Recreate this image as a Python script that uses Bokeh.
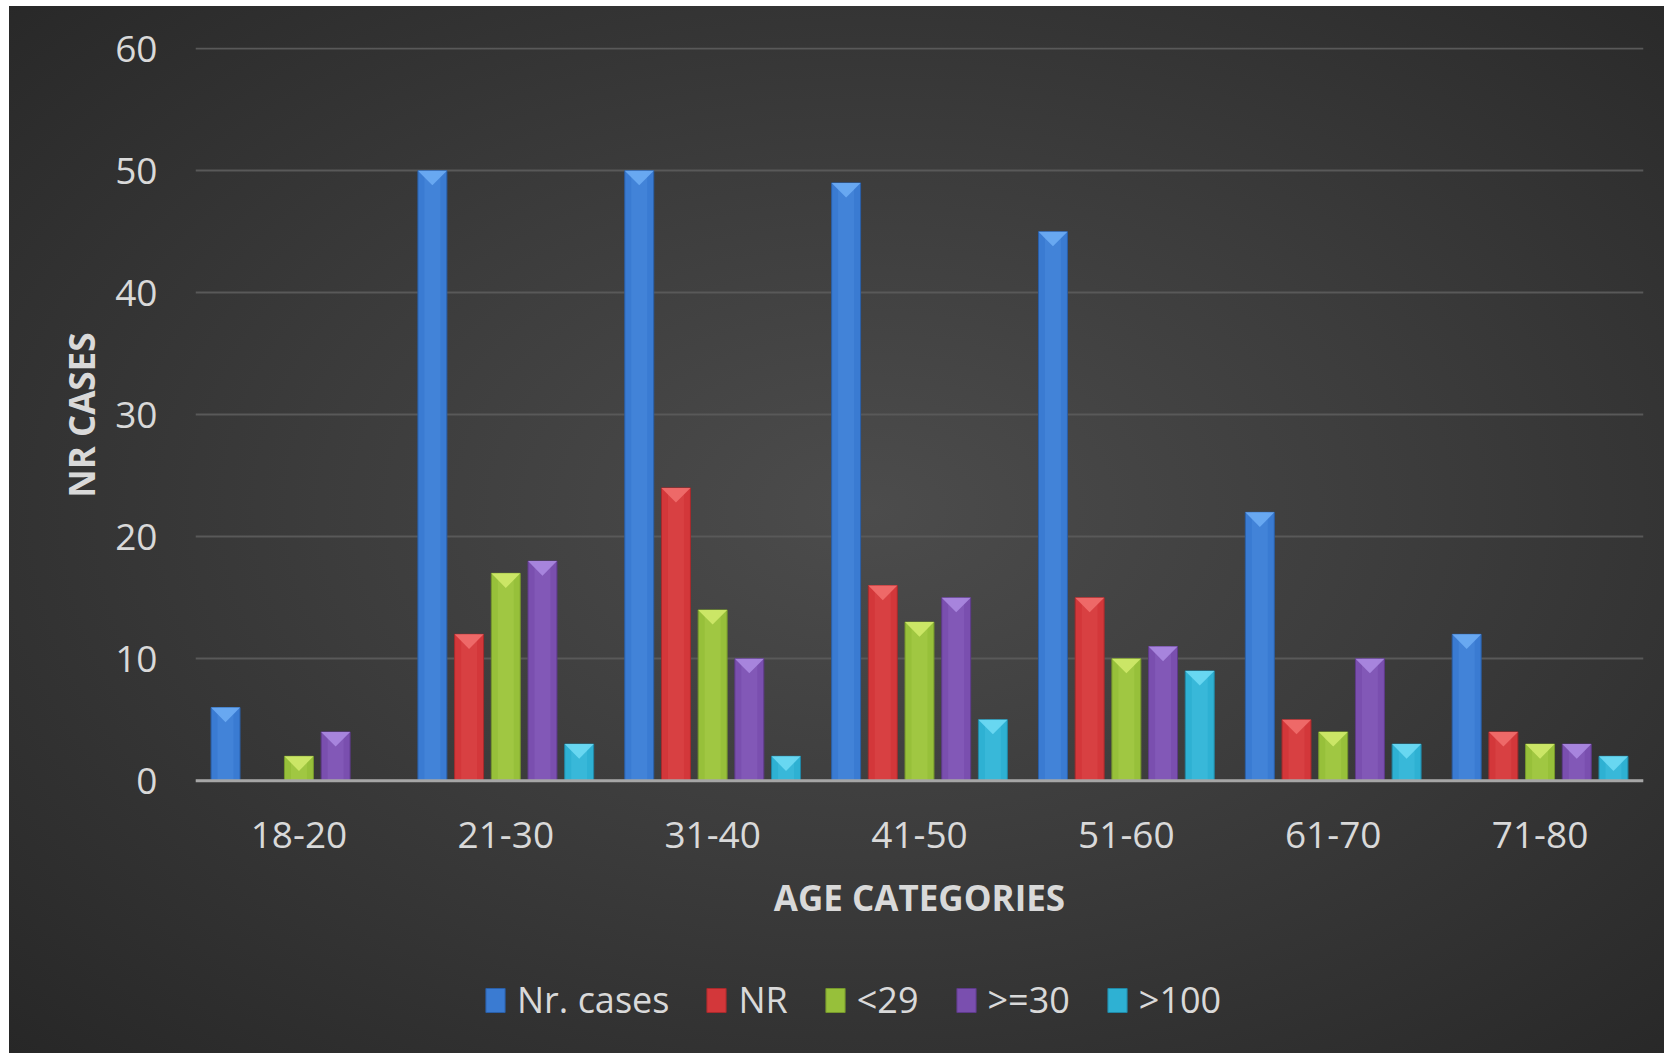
from bokeh.plotting import figure
from bokeh.models import Range1d, FixedTicker, Legend, LegendItem, Span, Title, ColumnDataSource
from bokeh.core.properties import value
from bokeh.embed import file_html
from bokeh.resources import INLINE

categories = ["18-20", "21-30", "31-40", "41-50", "51-60", "61-70", "71-80"]
series_names = ["Nr. cases", "NR", "<29", ">=30", ">100"]
nr_cases = [6, 50, 50, 49, 45, 22, 12]
nr = [0, 12, 24, 16, 15, 5, 4]
lt29 = [2, 17, 14, 13, 10, 4, 3]
ge30 = [4, 18, 10, 15, 11, 10, 3]
gt100 = [0, 3, 2, 5, 9, 3, 2]
y_ticks = [0, 10, 20, 30, 40, 50, 60]
x_title = "AGE CATEGORIES"
y_title = "NR CASES"

series_values = [nr_cases, nr, lt29, ge30, gt100]
colors = ["#3a7bd2", "#d3373a", "#97c03a", "#7a4faf", "#2eb1d3"]
edge_colors = ["#2a5fa8", "#a82a2c", "#76982c", "#5e3a8a", "#2088a6"]
top_colors = ["#6aaaf2", "#ef6c6a", "#cde868", "#a987de", "#6ad8f2"]

FONT = "Open Sans"
TXT = "#d9d9d9"

# frame extends below the value axis so that the category labels and legend sit inside it
p = figure(width=1655, height=1047, output_backend="svg", toolbar_location=None,
           x_range=Range1d(0, len(categories)), y_range=Range1d(-22.36, 60.1),
           x_axis_location=None,
           min_border_left=186, min_border_right=21, min_border_top=41, min_border_bottom=0)
p.styles = {"margin-left": "9px", "margin-top": "6px",
            "background": "radial-gradient(ellipse at 52% 48%, #4c4c4c 0%, #3c3c3c 45%, #272727 100%)"}
p.background_fill_alpha = 0
p.border_fill_alpha = 0
p.outline_line_color = None
p.xgrid.grid_line_color = None

step = 0.1774
bw = 0.140
tri_h = 1.2

items = []
for j, vals in enumerate(series_values):
    xs = [i + 0.5 + (j - 2) * step for i in range(len(categories))]
    r = p.vbar(x=xs, top=vals, bottom=0, width=bw, fill_color=colors[j],
               line_color=edge_colors[j], line_width=1)
    p.vbar(x=xs, top=vals, bottom=0, width=bw * 0.55, fill_color=top_colors[j],
           fill_alpha=0.18, line_color=None)
    px, py = [], []
    for x, v in zip(xs, vals):
        if v > 0:
            h = min(tri_h, v * 0.6)
            px.append([x - bw / 2, x + bw / 2, x])
            py.append([v, v, v - h])
    if px:
        p.patches(xs=px, ys=py, fill_color=top_colors[j], line_color=None, fill_alpha=0.95)
    items.append(LegendItem(label=series_names[j], renderers=[r]))

# baseline (value 0)
p.add_layout(Span(location=0, dimension="width", line_color="#a6a6a6", line_width=3))

# category labels and x title
cat_src = ColumnDataSource(dict(x=[i + 0.5 for i in range(len(categories))],
                                y=[0] * len(categories), text=categories))
p.text(x="x", y="y", text="text", source=cat_src, y_offset=54,
       text_font=value(FONT), text_font_size="37px", text_color=TXT,
       text_align="center", text_baseline="middle")
p.text(x=[len(categories) / 2], y=[0], text=[x_title], y_offset=117,
       text_font=value(FONT), text_font_size="35px", text_font_style="bold",
       text_color=TXT, text_align="center", text_baseline="middle")

# y axis
p.yaxis.ticker = FixedTicker(ticks=y_ticks)
p.yaxis.major_tick_line_color = None
p.yaxis.minor_tick_line_color = None
p.yaxis.axis_line_color = None
p.yaxis.major_label_text_font = FONT
p.yaxis.major_label_text_font_size = "37px"
p.yaxis.major_label_text_color = TXT
p.yaxis.major_label_standoff = 32
p.ygrid.grid_line_color = "#595959"
p.ygrid.grid_line_width = 2

p.add_layout(Title(text=y_title, align="right", offset=285, text_font=FONT,
                   text_font_size="35px", text_font_style="bold", text_color=TXT,
                   standoff=16), "left")

legend = Legend(items=items, orientation="horizontal", location=(288, 29),
                label_text_font=FONT, label_text_font_size="36px", label_text_color=TXT,
                glyph_width=24, glyph_height=30, label_standoff=10, spacing=35,
                background_fill_alpha=0, border_line_color=None, padding=0, margin=0)
p.add_layout(legend, "center")

open("out.html", "w").write(file_html(p, INLINE))
